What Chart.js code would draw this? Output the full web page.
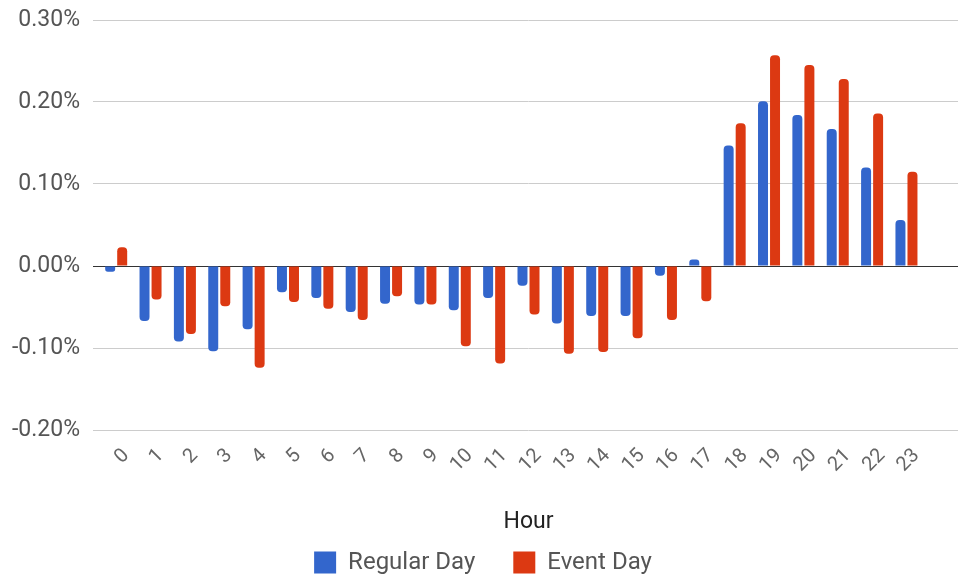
<!DOCTYPE html>
<html>
<head>
<meta charset="utf-8">
<script src="https://cdn.jsdelivr.net/npm/chart.js@4/dist/chart.umd.min.js"></script>
<style>
html,body{margin:0;padding:0;background:#fff;}
#wrap{width:958px;height:577px;}
</style>
</head>
<body>
<div id="wrap"><canvas id="c" width="958" height="577"></canvas></div>
<script>
// ---- data (values in %) ----
const hours = ['0','1','2','3','4','5','6','7','8','9','10','11','12','13','14','15','16','17','18','19','20','21','22','23'];
const regularDay = [-0.007,-0.067,-0.092,-0.104,-0.077,-0.032,-0.039,-0.056,-0.046,-0.047,-0.054,-0.039,-0.024,-0.070,-0.061,-0.061,-0.012,0.008,0.147,0.201,0.184,0.167,0.120,0.056];
const eventDay   = [0.023,-0.041,-0.083,-0.049,-0.124,-0.044,-0.052,-0.066,-0.037,-0.047,-0.098,-0.119,-0.059,-0.107,-0.105,-0.088,-0.066,-0.043,0.174,0.257,0.245,0.228,0.186,0.115];
const seriesNames = ['Regular Day','Event Day'];
const yMin = -0.2, yMax = 0.3, yStep = 0.1;
const xTitle = 'Hour';

Chart.defaults.font.family = 'Roboto';

new Chart(document.getElementById('c'), {
  type: 'bar',
  data: {
    labels: hours.concat(['']),
    datasets: [
      { label: seriesNames[0], data: regularDay, backgroundColor: '#3366CC', borderRadius: 4,
        categoryPercentage: 0.7, barPercentage: 0.83 },
      { label: seriesNames[1], data: eventDay, backgroundColor: '#DC3912', borderRadius: 4,
        categoryPercentage: 0.7, barPercentage: 0.83 }
    ]
  },
  options: {
    responsive: false,
    animation: false,
    layout: { padding: { top: 20, right: 0, left: 8, bottom: -7.5 } },
    plugins: {
      tooltip: { enabled: false },
      legend: {
        position: 'bottom',
        labels: { boxWidth: 22, boxHeight: 22, padding: 38, color: '#555', font: { size: 24 } }
      }
    },
    scales: {
      x: {
        grid: { display: false, drawTicks: false },
        border: { display: false },
        ticks: { autoSkip: false, minRotation: 45, maxRotation: 45, padding: 14, labelOffset: 10,
                 color: '#666', font: { size: 20 } },
        title: { display: true, text: xTitle, color: '#222', font: { size: 23 }, padding: -24 },
        afterFit: (s) => { s.height = 82.5; s.paddingLeft = 0; s.paddingRight = 0; }
      },
      y: {
        min: yMin, max: yMax,
        border: { display: false },
        grid: {
          color: (ctx) => (ctx.tick && Math.abs(ctx.tick.value) < 1e-9) ? '#333' : '#ccc',
          tickLength: 6
        },
        ticks: { stepSize: yStep, padding: 13, color: '#555', font: { size: 23 },
                 callback: (v) => v.toFixed(2) + '%' },
        afterFit: (s) => { s.width = 91; s.paddingTop = 0; s.paddingBottom = 0; }
      }
    }
  }
});
</script>
</body>
</html>
